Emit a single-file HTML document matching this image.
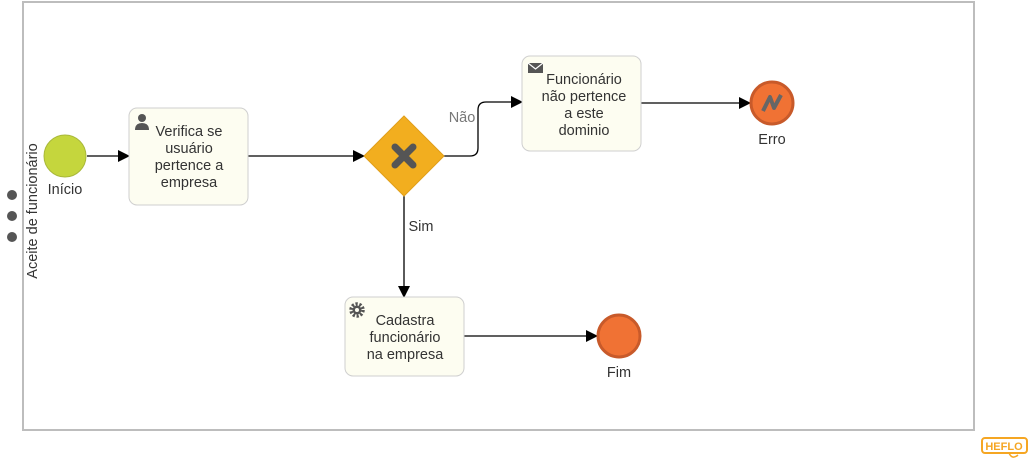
<!DOCTYPE html>
<html><head><meta charset="utf-8"><style>
body{margin:0;background:#fff;}
svg{display:block;font-family:"Liberation Sans",sans-serif;}
</style></head><body>
<svg width="1031" height="462" viewBox="0 0 1031 462">
<defs><marker id="a" markerWidth="12" markerHeight="12" refX="11" refY="6" orient="auto" markerUnits="userSpaceOnUse"><path d="M0,0 L12,6 L0,12 z" fill="#000"/></marker></defs>
<rect x="23" y="2" width="951" height="428" fill="#fff" stroke="#bdbdbd" stroke-width="2"/>
<text transform="translate(37,211) rotate(-90)" font-size="14.5" fill="#333" text-anchor="middle">Aceite de funcionário</text>
<circle cx="12" cy="195" r="5" fill="#555"/><circle cx="12" cy="216" r="5" fill="#555"/><circle cx="12" cy="237" r="5" fill="#555"/>
<g stroke="#000" stroke-width="1.3" fill="none">
<line x1="87" y1="156" x2="129" y2="156" marker-end="url(#a)"/>
<line x1="248" y1="156" x2="364" y2="156" marker-end="url(#a)"/>
<path d="M444,156 H470 Q478,156 478,148 V110 Q478,102 486,102 H522" marker-end="url(#a)"/>
<line x1="641" y1="103" x2="750" y2="103" marker-end="url(#a)"/>
<line x1="404" y1="196" x2="404" y2="297" marker-end="url(#a)"/>
<line x1="464" y1="336" x2="597" y2="336" marker-end="url(#a)"/>
</g>
<circle cx="65" cy="156" r="21" fill="#c5d63d" stroke="#a9b83a" stroke-width="1"/>
<text x="65" y="194" font-size="14.5" fill="#333" text-anchor="middle">Início</text>
<g font-size="14.5" fill="#333" text-anchor="middle">
<rect x="129" y="108" width="119" height="97" rx="8" fill="#fdfdf1" stroke="#cfcfcf"/>
<text x="189" y="136">Verifica se</text><text x="189" y="153">usuário</text><text x="189" y="170">pertence a</text><text x="189" y="187">empresa</text>
<rect x="522" y="56" width="119" height="95" rx="8" fill="#fdfdf1" stroke="#cfcfcf"/>
<text x="584" y="84">Funcionário</text><text x="584" y="101">não pertence</text><text x="584" y="118">a este</text><text x="584" y="135">dominio</text>
<rect x="345" y="297" width="119" height="79" rx="8" fill="#fdfdf1" stroke="#cfcfcf"/>
<text x="405" y="325">Cadastra</text><text x="405" y="342">funcionário</text><text x="405" y="359">na empresa</text>
</g>
<circle cx="142" cy="118" r="4" fill="#555"/><path d="M135,130 Q135,123 142,123 Q149,123 149,130 z" fill="#555"/>
<rect x="528" y="63" width="15" height="10" fill="#555"/><path d="M528,63 L535.5,69 L543,63" stroke="#fff" stroke-width="1.2" fill="none"/>
<circle cx="357" cy="310" r="6" fill="none" stroke="#555" stroke-width="3.5" stroke-dasharray="2.2 1.6"/><circle cx="357" cy="310" r="4.5" fill="#555"/><circle cx="357" cy="310" r="2" fill="#fdfdf1"/>
<polygon points="404,116 444,156 404,196 364,156" fill="#f2ae1f" stroke="#e09e1a" stroke-width="1"/>
<path d="M395,147 L413,165 M413,147 L395,165" stroke="#555" stroke-width="7" stroke-linecap="round"/>
<text x="462" y="122" font-size="14.5" fill="#777" text-anchor="middle">Não</text>
<text x="421" y="231" font-size="14.5" fill="#333" text-anchor="middle">Sim</text>
<circle cx="772" cy="103" r="21" fill="#f07234" stroke="#c85a2a" stroke-width="3"/>
<path d="M763,111 L770,97 L774,108 L781,95" stroke="#666" stroke-width="4" fill="none" stroke-linejoin="round"/>
<text x="772" y="144" font-size="14.5" fill="#333" text-anchor="middle">Erro</text>
<circle cx="619" cy="336" r="21" fill="#f07234" stroke="#c85a2a" stroke-width="3"/>
<text x="619" y="377" font-size="14.5" fill="#333" text-anchor="middle">Fim</text>
<rect x="982" y="438" width="45" height="15" rx="3" fill="#fff" stroke="#f5a623" stroke-width="2"/>
<text x="1004" y="450" font-size="11" font-weight="bold" fill="#f5a623" text-anchor="middle">HEFLO</text>
<path d="M1009,453 Q1012,460 1018,455" stroke="#f5a623" stroke-width="1.5" fill="none"/>
</svg>
</body></html>
